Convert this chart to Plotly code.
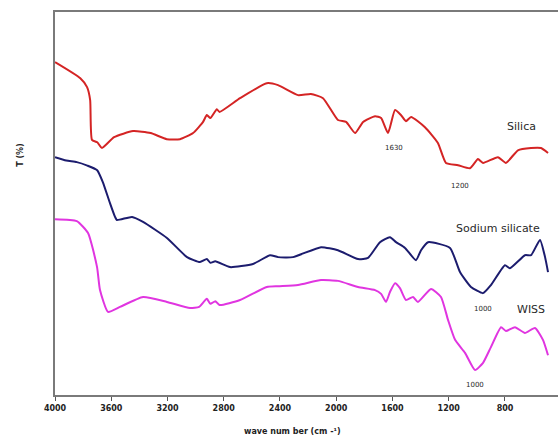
import plotly.graph_objects as go

# Silica (red)
silica_w = [4000, 3820, 3772, 3750, 3737, 3700, 3666, 3580, 3445, 3320, 3205, 3111, 3018, 2947, 2920, 2895,
            2849, 2830, 2684, 2494, 2414, 2272, 2180, 2094, 1988, 1930, 1866, 1809, 1724, 1681, 1632, 1582,
            1540, 1504, 1468, 1369, 1277, 1220, 1134, 1049, 992, 956, 850, 793, 708, 615, 544, 494]
silica_t = [86.9, 82.7, 80.4, 77.0, 66.6, 66.0, 64.5, 67.3, 68.9, 68.4, 66.8, 66.8, 68.4, 71.3, 73.1, 72.3,
            74.6, 73.9, 77.5, 81.4, 80.9, 78.3, 78.6, 77.5, 71.8, 71.3, 68.4, 71.3, 72.8, 72.3, 68.4, 74.4,
            73.1, 71.5, 72.6, 69.9, 65.8, 60.6, 60.0, 59.2, 61.6, 60.6, 62.1, 60.6, 63.9, 64.5, 64.5, 63.2]

# Sodium silicate (navy)
sodium_w = [4000, 3920, 3845, 3770, 3700, 3660, 3609, 3573, 3560, 3452, 3374, 3204, 3061, 2969, 2920, 2895,
            2860, 2756, 2592, 2471, 2414, 2308, 2108, 1988, 1845, 1774, 1689, 1618, 1575, 1511, 1433, 1397,
            1347, 1191, 1120, 1042, 956, 900, 800, 765, 658, 615, 551, 515, 494]
sodium_t = [62.1, 61.2, 60.8, 59.9, 58.7, 55.6, 50.1, 46.5, 45.7, 46.5, 45.2, 41.0, 36.0, 34.7, 35.5, 34.5,
            34.9, 33.4, 34.2, 36.5, 36.0, 36.0, 38.6, 37.8, 35.5, 35.8, 39.9, 41.2, 39.9, 38.4, 35.2, 37.8,
            39.9, 38.4, 32.1, 28.2, 26.6, 28.7, 33.9, 33.1, 36.5, 36.5, 40.5, 36.0, 32.1]

# WISS (magenta)
wiss_w = [4000, 3845, 3765, 3701, 3680, 3623, 3538, 3374, 3204, 3040, 2975, 2920, 2895, 2860, 2830, 2684,
          2494, 2414, 2272, 2108, 1988, 1845, 1724, 1681, 1646, 1618, 1582, 1547, 1504, 1454, 1419, 1326,
          1255, 1205, 1155, 1084, 1013, 956, 900, 828, 793, 729, 658, 587, 530, 494]
wiss_t = [45.9, 45.4, 42.3, 33.4, 27.4, 21.7, 23.0, 25.6, 24.3, 22.7, 23.0, 25.1, 23.8, 24.5, 23.5, 24.8,
          28.2, 28.4, 28.7, 30.0, 29.8, 28.2, 27.4, 26.4, 24.3, 26.9, 29.2, 27.9, 24.8, 25.6, 24.3, 27.7,
          25.6, 19.6, 14.4, 11.0, 6.5, 8.4, 12.5, 17.7, 16.7, 17.7, 16.2, 17.5, 14.4, 10.4]

tick_vals = [4000, 3600, 3200, 2800, 2400, 2000, 1600, 1200, 800, 400]
tick_text = ["4000", "3600", "3200", "2800", "2400", "2000", "1600", "1200", "800", "400"]

# (text, wavenumber, T, font size)
labels = [
    ("1630", 1590, 64.5, 7),
    ("1200", 1120, 54.5, 7),
    ("Silica", 680, 70.0, 11),
    ("Sodium silicate", 850, 43.6, 11),
    ("1000", 956, 22.5, 7),
    ("WISS", 615, 22.2, 11),
    ("1000", 1013, 2.6, 7),
]

FONT = "DejaVu Sans, Verdana, sans-serif"

fig = go.Figure()
fig.add_trace(go.Scatter(x=silica_w, y=silica_t, mode="lines",
                         line=dict(color="#d42424", width=2, shape="spline", smoothing=0.5), name="Silica"))
fig.add_trace(go.Scatter(x=sodium_w, y=sodium_t, mode="lines",
                         line=dict(color="#1c1c6e", width=2, shape="spline", smoothing=0.5), name="Sodium silicate"))
fig.add_trace(go.Scatter(x=wiss_w, y=wiss_t, mode="lines",
                         line=dict(color="#e035e0", width=2, shape="spline", smoothing=0.5), name="WISS"))

for txt, x, y, size in labels:
    fig.add_annotation(x=x, y=y, text=txt, showarrow=False,
                       font=dict(family=FONT, size=size, color="#2a2a2a"))

fig.add_annotation(xref="paper", yref="paper", x=0, y=0.627, xshift=-34, xanchor="center", yanchor="middle",
                   text="T (%)", textangle=-90, showarrow=False,
                   font=dict(family=FONT, size=8, color="#222222", weight="bold"))

fig.add_annotation(xref="paper", yref="paper", x=0.473, y=-0.0966, xanchor="center", yanchor="middle",
                   text="wave num ber (cm -¹)", showarrow=False,
                   font=dict(family=FONT, size=8, color="#222222", weight="bold"))

fig.update_layout(
    width=558, height=439,
    margin=dict(l=55, r=0, t=12, b=44),
    paper_bgcolor="white", plot_bgcolor="white",
    showlegend=False,
    font=dict(family=FONT, color="#222222"),
    xaxis=dict(range=[4000, 423], tickvals=tick_vals, ticktext=tick_text,
               showgrid=False, zeroline=False, showline=True, linecolor="#7a7a7a", linewidth=2,
               mirror=True, ticks="outside", ticklen=4, tickcolor="#555555",
               tickfont=dict(family=FONT, size=8, color="#222222", weight="bold")),
    yaxis=dict(range=[0, 100], showticklabels=False, showgrid=False, zeroline=False,
               showline=True, linecolor="#7a7a7a", linewidth=2, ticks=""),
)

fig.write_html("out.html", config={"displayModeBar": False},
               post_script="document.body.style.margin='0';document.body.style.overflow='hidden';")
